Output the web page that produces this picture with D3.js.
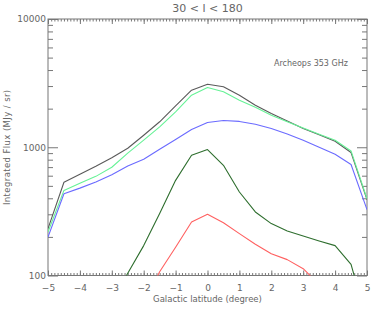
<!DOCTYPE html>
<html>
<head>
<meta charset="utf-8">
<script src="https://cdn.jsdelivr.net/npm/d3@7"></script>
<style>
  body { margin: 0; background: #fff; }
  text { font-family: "DejaVu Sans", sans-serif; fill: #666; }
</style>
</head>
<body>
<div id="chart"></div>
<script>
// galactic latitude grid (degree)
var latitudes = [-5, -4.5, -4, -3.5, -3, -2.5, -2, -1.5, -1, -0.5, 0, 0.5, 1, 1.5, 2, 2.5, 3, 3.5, 4, 4.5, 5];

// integrated flux (MJy / sr)
var fluxTotal  = [232, 533, 615, 711, 829, 982, 1240, 1580, 2100, 2786, 3100, 2960, 2545, 2128, 1833, 1600, 1400, 1250, 1114, 909, 390];
var fluxGreen  = [218, 461, 524, 593, 698, 900, 1135, 1442, 1888, 2545, 2925, 2705, 2328, 2050, 1780, 1580, 1410, 1265, 1135, 936, 397];
var fluxBlue   = [199, 434, 480, 535, 610, 715, 806, 964, 1148, 1375, 1560, 1616, 1590, 1513, 1400, 1270, 1135, 1000, 881, 733, 326];
var fluxDark   = [null, null, null, null, 63, 104, 171, 305, 552, 865, 959, 723, 448, 313, 254, 222, 203, 186, 171, 122, 44];
var fluxRed    = [null, null, null, null, null, null, 60, 107, 166, 261, 300, 258, 212, 175, 148, 133, 113, 85, null, null, null];

var xTicks = [-5, -4, -3, -2, -1, 0, 1, 2, 3, 4, 5];
var yTicks = [100, 1000, 10000];

var series = [
  {values: fluxTotal, color: "#5a5a5a"},
  {values: fluxGreen, color: "#66f296"},
  {values: fluxBlue,  color: "#6b6bff"},
  {values: fluxDark,  color: "#2e6e2e"},
  {values: fluxRed,   color: "#ff6060"}
];

var W = 382, H = 311;
var margin = {top: 19, right: 15, bottom: 35.5, left: 48};
var width = W - margin.left - margin.right,
    height = H - margin.top - margin.bottom;

var svg = d3.select("#chart").append("svg")
  .attr("width", W)
  .attr("height", H);

var g = svg.append("g")
  .attr("transform", "translate(" + margin.left + "," + margin.top + ")");

var x = d3.scaleLinear().domain([-5, 5]).range([0, width]);
var y = d3.scaleLog().domain([100, 10000]).range([height, 0]);

svg.append("defs").append("clipPath").attr("id", "clip")
  .append("rect").attr("width", width).attr("height", height);

// minor ticks
var xMinor = d3.range(-50, 51).map(function(d) { return d / 10; });
var yMinor = [];
[100, 1000].forEach(function(dec) {
  for (var k = 2; k < 10; k++) yMinor.push(dec * k);
});

var tickColor = "#777";

function plain(a) {
  a.select(".domain").remove();
  a.selectAll("line").attr("stroke", tickColor);
}

// bottom axis
g.append("g")
  .attr("transform", "translate(0," + height + ")")
  .call(d3.axisBottom(x).tickValues(xMinor).tickSize(-2.5).tickFormat(""))
  .call(plain);
g.append("g")
  .attr("transform", "translate(0," + height + ")")
  .call(d3.axisBottom(x).tickValues(xTicks).tickSize(-5).tickPadding(9)
    .tickFormat(function(d) { return d < 0 ? "\u2212" + (-d) : d; }))
  .call(plain)
  .call(function(a) {
    a.selectAll("text").attr("font-size", 9).attr("fill", "#666").attr("font-family", "DejaVu Sans");
  });

// top axis
g.append("g")
  .call(d3.axisTop(x).tickValues(xMinor).tickSize(-2.5).tickFormat(""))
  .call(plain);
g.append("g")
  .call(d3.axisTop(x).tickValues(xTicks).tickSize(-5).tickFormat(""))
  .call(plain);

// left axis
g.append("g")
  .call(d3.axisLeft(y).tickValues(yMinor).tickSize(-5).tickFormat(""))
  .call(plain);
g.append("g")
  .call(d3.axisLeft(y).tickValues(yTicks).tickSize(-10).tickPadding(2).tickFormat(d3.format("d")))
  .call(plain)
  .call(function(a) {
    a.selectAll("text").attr("font-size", 9).attr("fill", "#666").attr("font-family", "DejaVu Sans");
  });

// right axis
g.append("g")
  .attr("transform", "translate(" + width + ",0)")
  .call(d3.axisRight(y).tickValues(yMinor).tickSize(-5).tickFormat(""))
  .call(plain);
g.append("g")
  .attr("transform", "translate(" + width + ",0)")
  .call(d3.axisRight(y).tickValues(yTicks).tickSize(-10).tickFormat(""))
  .call(plain);

// frame
g.append("rect")
  .attr("width", width).attr("height", height)
  .attr("fill", "none").attr("stroke", tickColor).attr("stroke-width", 1);

var line = d3.line()
  .defined(function(d) { return d[1] != null; })
  .x(function(d) { return x(d[0]); })
  .y(function(d) { return y(d[1]); });

var plot = g.append("g").attr("clip-path", "url(#clip)");
series.forEach(function(s) {
  var data = latitudes.map(function(lat, i) { return [lat, s.values[i]]; });
  plot.append("path")
    .datum(data)
    .attr("fill", "none")
    .attr("stroke", s.color)
    .attr("stroke-width", 1.1)
    .attr("stroke-linejoin", "round")
    .attr("d", line);
});

// title and labels
svg.append("text")
  .attr("x", margin.left + width / 2).attr("y", 12)
  .attr("text-anchor", "middle").attr("font-size", 11)
  .text("30 < l < 180");

svg.append("text")
  .attr("x", margin.left + width / 2).attr("y", 302)
  .attr("text-anchor", "middle").attr("font-size", 8.5)
  .text("Galactic latitude (degree)");

svg.append("text")
  .attr("transform", "translate(10," + (margin.top + height / 2) + ") rotate(-90)")
  .attr("text-anchor", "middle").attr("font-size", 8.5)
  .attr("letter-spacing", 0.4)
  .text("Integrated Flux (MJy / sr)");

g.append("text")
  .attr("x", x(4.4)).attr("y", y(4300))
  .attr("text-anchor", "end").attr("font-size", 8)
  .text("Archeops 353 GHz");
</script>
</body>
</html>
